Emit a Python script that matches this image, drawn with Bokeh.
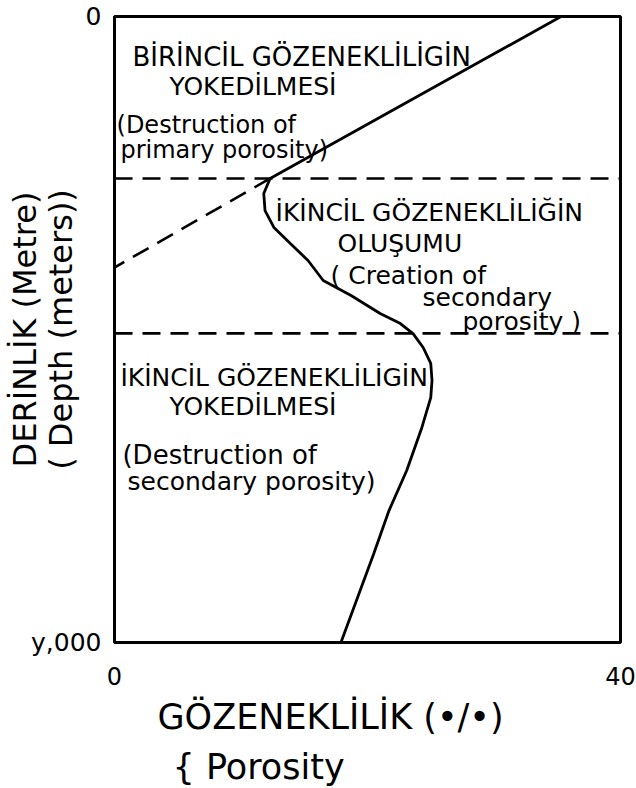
from bokeh.plotting import figure
from bokeh.models import Range1d, FixedTicker, Label, Span, Title
from bokeh.embed import file_html
from bokeh.resources import INLINE

# ---- data (porosity %, depth m) ----
porosity = [35.3, 12.3, 11.8, 11.9, 12.6, 13.9, 15.3, 16.5, 18.7, 21.0, 22.6,
            23.6, 24.4, 25.0, 25.1, 25.0, 24.3, 23.1, 21.7, 20.5, 17.9]
depth = [0, 1035, 1131, 1240, 1348, 1451, 1559, 1687, 1783, 1898, 1962,
         2026, 2115, 2217, 2326, 2435, 2626, 2901, 3157, 3431, 4000]

# extrapolated primary-porosity trend (dashed)
extrap_porosity = [12.3, 0.0]
extrap_depth = [1035, 1604]

# zone boundaries (depth, m)
zone_bounds = [1035, 2025]

x_ticks = [0, 40]
x_tick_labels = ["0", "40"]
y_ticks = [0, 4000]
y_tick_labels = ["0", "y,000"]

FONT = "DejaVu Sans"

p = figure(width=636, height=788, output_backend="svg", toolbar_location=None,
           x_range=Range1d(0, 40), y_range=Range1d(4000, 0),
           min_border_left=114, min_border_right=16, min_border_top=16,
           min_border_bottom=146)
p.background_fill_color = "white"
p.border_fill_color = "white"
p.outline_line_color = "black"
p.outline_line_width = 3
p.xgrid.visible = False
p.ygrid.visible = False

# y axis
p.yaxis.ticker = FixedTicker(ticks=y_ticks)
p.yaxis.major_label_overrides = {t: l for t, l in zip(y_ticks, y_tick_labels)}
p.yaxis.major_tick_line_color = None
p.yaxis.major_tick_out = 0
p.yaxis.minor_tick_line_color = None
p.yaxis.axis_line_color = None
p.yaxis.major_label_standoff = 13
p.yaxis.major_label_text_font = FONT
p.yaxis.major_label_text_font_size = "25px"
p.yaxis.major_label_text_color = "black"
p.yaxis.axis_label = "DERİNLİK (Metre)\n( Depth (meters))"
p.yaxis.axis_label_text_font = FONT
p.yaxis.axis_label_text_font_size = "32px"
p.yaxis.axis_label_text_font_style = "normal"
p.yaxis.axis_label_text_color = "black"
p.yaxis.axis_label_text_line_height = 0.95
p.yaxis.axis_label_standoff = -52

# x axis
p.xaxis.ticker = FixedTicker(ticks=x_ticks)
p.xaxis.major_label_overrides = {t: l for t, l in zip(x_ticks, x_tick_labels)}
p.xaxis.major_tick_line_color = None
p.xaxis.major_tick_out = 0
p.xaxis.minor_tick_line_color = None
p.xaxis.axis_line_color = None
p.xaxis.major_label_standoff = 24
p.xaxis.major_label_text_font = FONT
p.xaxis.major_label_text_font_size = "24px"
p.xaxis.major_label_text_color = "black"

# x axis title, two lines
p.add_layout(Title(text="GÖZENEKLİLİK (•/•)", align="left", offset=43,
                   text_font=FONT, text_font_size="35px",
                   text_font_style="normal", text_color="black", standoff=14), "below")
p.add_layout(Title(text="{ Porosity", align="left", offset=58,
                   text_font=FONT, text_font_size="35px",
                   text_font_style="normal", text_color="black", standoff=2), "below")

# curves
p.line(porosity, depth, line_color="black", line_width=2.8)
p.line(extrap_porosity, extrap_depth, line_color="black", line_width=2.6,
       line_dash="18 10")
for d in zone_bounds:
    p.add_layout(Span(location=d, dimension="width", line_color="black",
                      line_width=2.6, line_dash="18 10"))

# annotations inside the plot
notes = [
    ("BİRİNCİL GÖZENEKLİLİGİN", 1.42, 256, "26px"),
    ("YOKEDİLMESİ", 4.35, 447, "25px"),
    ("(Destruction of", 0.16, 696, "24px"),
    ("primary porosity)", 0.47, 856, "24px"),
    ("İKİNCİL GÖZENEKLİLİĞİN", 12.73, 1252, "25px"),
    ("OLUŞUMU", 17.63, 1450, "25px"),
    ("( Creation of", 17.08, 1655, "25px"),
    ("secondary", 24.35, 1796, "25px"),
    ("porosity )", 27.51, 1949, "25px"),
    ("İKİNCİL GÖZENEKLİLİGİN", 0.47, 2307, "25px"),
    ("YOKEDİLMESİ", 4.35, 2492, "25px"),
    ("(Destruction of", 0.63, 2805, "26px"),
    ("secondary porosity)", 1.03, 2971, "25px"),
]
for txt, x, y, fs in notes:
    p.add_layout(Label(x=x, y=y, text=txt, text_align="left", text_baseline="middle",
                       text_font=FONT, text_font_size=fs, text_color="black"))

open("out.html", "w").write(file_html(p, INLINE))
